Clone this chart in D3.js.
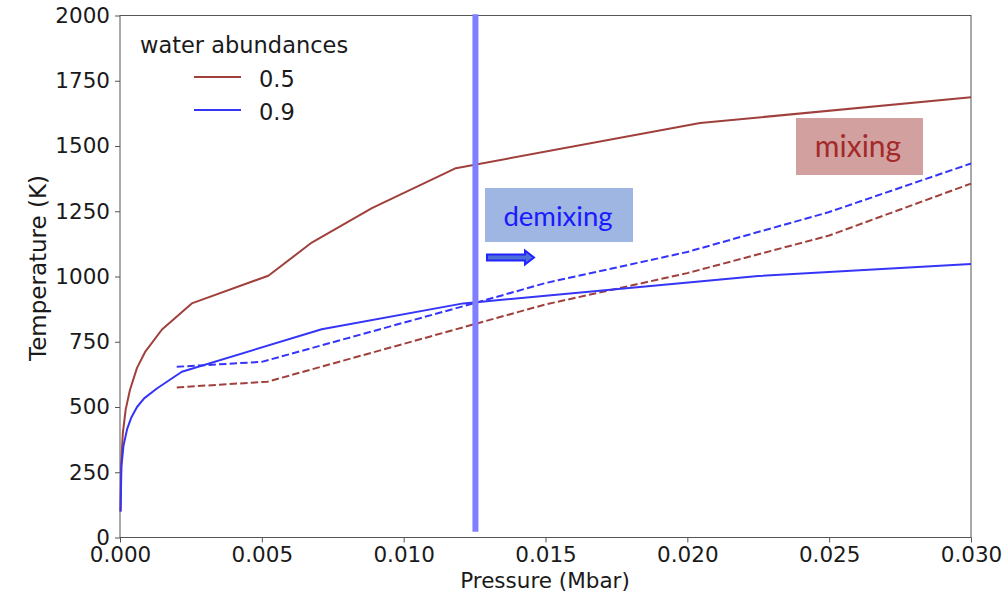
<!DOCTYPE html>
<html>
<head>
<meta charset="utf-8">
<script src="https://cdn.jsdelivr.net/npm/d3@7"></script>
<style>
  html, body { margin: 0; padding: 0; background: #fff; }
  svg { display: block; }
</style>
</head>
<body>
<svg id="chart" width="1007" height="596"></svg>
<script>
// ---- data ----
const xTicks = [0, 0.005, 0.010, 0.015, 0.020, 0.025, 0.030];
const yTicks = [0, 250, 500, 750, 1000, 1250, 1500, 1750, 2000];
const abundances = ["0.5", "0.9"];

// solid curves: [pressure (Mbar), temperature (K)]
const solid05 = [[0.00002,100],[0.00004,280],[0.0001,400],[0.0002,490],[0.00035,565],[0.0006,650],[0.00088,710],[0.00148,797],
  [0.00253,897],[0.00523,1003],[0.00676,1130],[0.00888,1262],[0.01184,1415],[0.02045,1588],[0.030,1687]];
const solid09 = [[0.00002,100],[0.00005,270],[0.00012,350],[0.00025,415],[0.0004,460],[0.0006,500],[0.00085,533],[0.0013,571],
  [0.00218,635],[0.00711,798],[0.0121,897],[0.0225,1002],[0.030,1048]];
// dashed curves
const dashed05 = [[0.002,575],[0.0052,597],[0.015,893],[0.020,1013],[0.025,1157],[0.030,1356]];
const dashed09 = [[0.002,654],[0.0050,673],[0.0125,898],[0.015,975],[0.020,1094],[0.025,1247],[0.030,1433]];

const boundaryP = 0.01253;           // vertical demixing boundary
const boundaryT = [22, 2005];

// ---- layout ----
const svg = d3.select("#chart");
const x = d3.scaleLinear().domain([0, 0.030]).range([120, 971]);
const y = d3.scaleLinear().domain([0, 2000]).range([537.5, 15.5]);

const red = "#a0403c", blue = "#3535f8";
const tickFont = "DejaVu Sans";
const fs = 21.5;

// axes
const gx = svg.append("g").attr("transform", `translate(0,${y(0)})`)
  .call(d3.axisBottom(x).tickValues(xTicks).tickFormat(d3.format(".3f")).tickSize(5).tickPadding(3));
const gy = svg.append("g").attr("transform", `translate(${x(0)},0)`)
  .call(d3.axisLeft(y).tickValues(yTicks).tickFormat(d3.format("d")).tickSize(5).tickPadding(5));
[gx, gy].forEach(g => {
  g.select(".domain").remove();
  g.selectAll("line").attr("stroke", "#555").attr("stroke-width", 1);
  g.selectAll("text").attr("font-family", tickFont).attr("font-size", fs).attr("fill", "#1a1a1a");
});
gx.selectAll("text").attr("dy", "0.76em");

// frame
svg.append("rect").attr("x", x(0)).attr("y", y(2000))
  .attr("width", x(0.030) - x(0)).attr("height", y(0) - y(2000))
  .attr("fill", "none").attr("stroke", "#555").attr("stroke-width", 1);

// axis labels
svg.append("text").attr("x", 545).attr("y", 588).attr("text-anchor", "middle")
  .attr("font-family", tickFont).attr("font-size", fs).attr("fill", "#1a1a1a").text("Pressure (Mbar)");
svg.append("text").attr("transform", "translate(46,268) rotate(-90)").attr("text-anchor", "middle")
  .attr("font-family", tickFont).attr("font-size", 23).attr("fill", "#1a1a1a").text("Temperature (K)");

// lines
const line = d3.line().x(d => x(d[0])).y(d => y(d[1]));
const plot = svg.append("g");
plot.append("path").datum(dashed05).attr("d", line).attr("fill", "none")
  .attr("stroke", red).attr("stroke-width", 2).attr("stroke-dasharray", "7.4,3.2");
plot.append("path").datum(dashed09).attr("d", line).attr("fill", "none")
  .attr("stroke", blue).attr("stroke-width", 2).attr("stroke-dasharray", "7.4,3.2");
plot.append("path").datum(solid05).attr("d", line).attr("fill", "none")
  .attr("stroke", red).attr("stroke-width", 2).attr("stroke-linejoin", "round");
plot.append("path").datum(solid09).attr("d", line).attr("fill", "none")
  .attr("stroke", blue).attr("stroke-width", 2).attr("stroke-linejoin", "round");

// vertical boundary
svg.append("line").attr("x1", x(boundaryP)).attr("x2", x(boundaryP))
  .attr("y1", y(boundaryT[0])).attr("y2", y(boundaryT[1]))
  .attr("stroke", "#7f7fff").attr("stroke-width", 6);

// legend
const lg = svg.append("g");
lg.append("text").attr("x", 140).attr("y", 53).attr("font-family", tickFont).attr("font-size", 22.5)
  .attr("fill", "#1a1a1a").text("water abundances");
abundances.forEach((a, i) => {
  const yy = 77 + i * 33;
  lg.append("line").attr("x1", 194).attr("x2", 241).attr("y1", yy).attr("y2", yy)
    .attr("stroke", i === 0 ? red : blue).attr("stroke-width", 2);
  lg.append("text").attr("x", 259).attr("y", yy + 10).attr("font-family", tickFont).attr("font-size", 22.5)
    .attr("fill", "#1a1a1a").text(a);
});

// demixing annotation
svg.append("rect").attr("x", 485).attr("y", 188).attr("width", 148).attr("height", 54).attr("fill", "#9fb5e2");
svg.append("text").attr("x", 558).attr("y", 226).attr("text-anchor", "middle")
  .attr("font-family", "Lato").attr("font-size", 27.5).attr("fill", "#1a1aff").text("demixing");
svg.append("path")
  .attr("d", "M487,254.5 L525,254.5 L525,250.5 L534,257.5 L525,264.5 L525,260.5 L487,260.5 Z")
  .attr("fill", "#4b6fd6").attr("stroke", "#2323ff").attr("stroke-width", 2).attr("stroke-linejoin", "miter");

// mixing annotation
svg.append("rect").attr("x", 796).attr("y", 118).attr("width", 127).attr("height", 57).attr("fill", "#d3a0a0");
svg.append("text").attr("x", 858).attr("y", 157).attr("text-anchor", "middle")
  .attr("font-family", "Lato").attr("font-size", 30).attr("fill", "#a32a2a").text("mixing");
</script>
</body>
</html>
